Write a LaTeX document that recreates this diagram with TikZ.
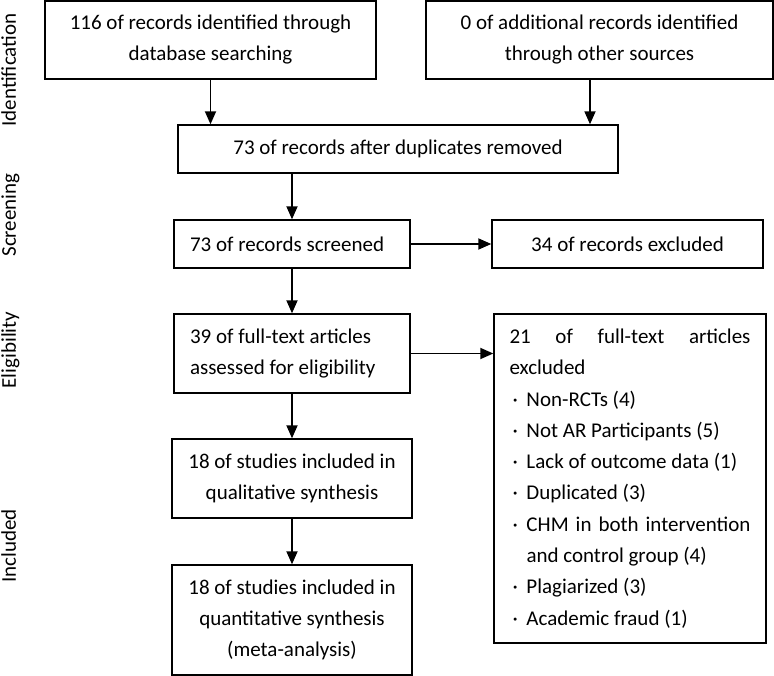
\documentclass[tikz,border=0pt]{standalone}
\usepackage{fontspec}
\setmainfont{Carlito}
\usetikzlibrary{arrows.meta}
\tikzset{
  box/.style={draw, line width=1.4pt, inner sep=0pt, align=center},
  lbox/.style={draw, line width=1.4pt, inner xsep=16pt, inner ysep=0pt, align=left},
  arr/.style={line width=1.8pt, -{Triangle[length=13pt,width=11pt]}},
  side/.style={rotate=90, anchor=base}
}
\newcommand{\bul}{\makebox[17pt][l]{\hspace{3pt}·}}

\begin{document}
\begin{tikzpicture}[x=1pt,y=-1pt,font=\fontsize{21}{31}\selectfont]
\useasboundingbox (0,0) rectangle (774,676);
\node [side] (idl) at (16,70) {Identification};
\node [side] (scl) at (16,215) {Screening};
\node [side] (ell) at (16,350) {Eligibility};
\node [side] (inl) at (16,546) {Included};

\node [box, minimum width=331pt, minimum height=78pt] (db) at (210.5,40) {116 of records identified through\\database searching};
\node [box, minimum width=347pt, minimum height=78pt] (other) at (599.5,40) {0 of additional records identified\\through other sources};
\node [box, minimum width=440pt, minimum height=48pt] (dup) at (398,149) {73 of records after duplicates removed};
\node [lbox, minimum height=48pt] (scr) at (292,244) {\makebox[204pt][l]{73 of records screened}};
\node [box, minimum width=271pt, minimum height=48pt] (exc) at (627.5,244) {34 of records excluded};
\node [lbox, minimum height=79pt] (full) at (292,353.5) {\makebox[204pt][l]{39 of full-text articles}\\assessed for eligibility};
\node [lbox, inner xsep=15.5pt, minimum height=329pt, font=\fontsize{21}{31.3}\selectfont] (ftex) at (630,478.5) {\hbox to 241pt{21\hfill of\hfill full-text\hfill articles}\\excluded\\
\bul Non-RCTs (4)\\
\bul Not AR Participants (5)\\
\bul Lack of outcome data (1)\\
\bul Duplicated (3)\\
\bul \hbox to 224pt{CHM\hfill in\hfill both\hfill intervention}\\
\hspace*{17pt}and control group (4)\\
\bul Plagiarized (3)\\
\bul Academic fraud (1)};
\node [box, minimum width=240pt, minimum height=79pt] (qual) at (292,478.5) {18 of studies included in\\qualitative synthesis};
\node [box, minimum width=240pt, minimum height=110pt] (quant) at (292,620) {18 of studies included in\\quantitative synthesis\\(meta-analysis)};

\draw [arr] (db.south) -- (db.south |- dup.north);
\draw [arr] ([xshift=-9.5pt]other.south) -- ([xshift=-9.5pt]other.south |- dup.north);
\draw [arr] (dup.south -| scr.north) -- (scr.north);
\draw [arr] (scr.east) -- (exc.west);
\draw [arr] (scr.south) -- (full.north);
\draw [arr] (full.east) -- (full.east -| ftex.west);
\draw [arr] (full.south) -- (qual.north);
\draw [arr] (qual.south) -- (quant.north);
\end{tikzpicture}
\end{document}
